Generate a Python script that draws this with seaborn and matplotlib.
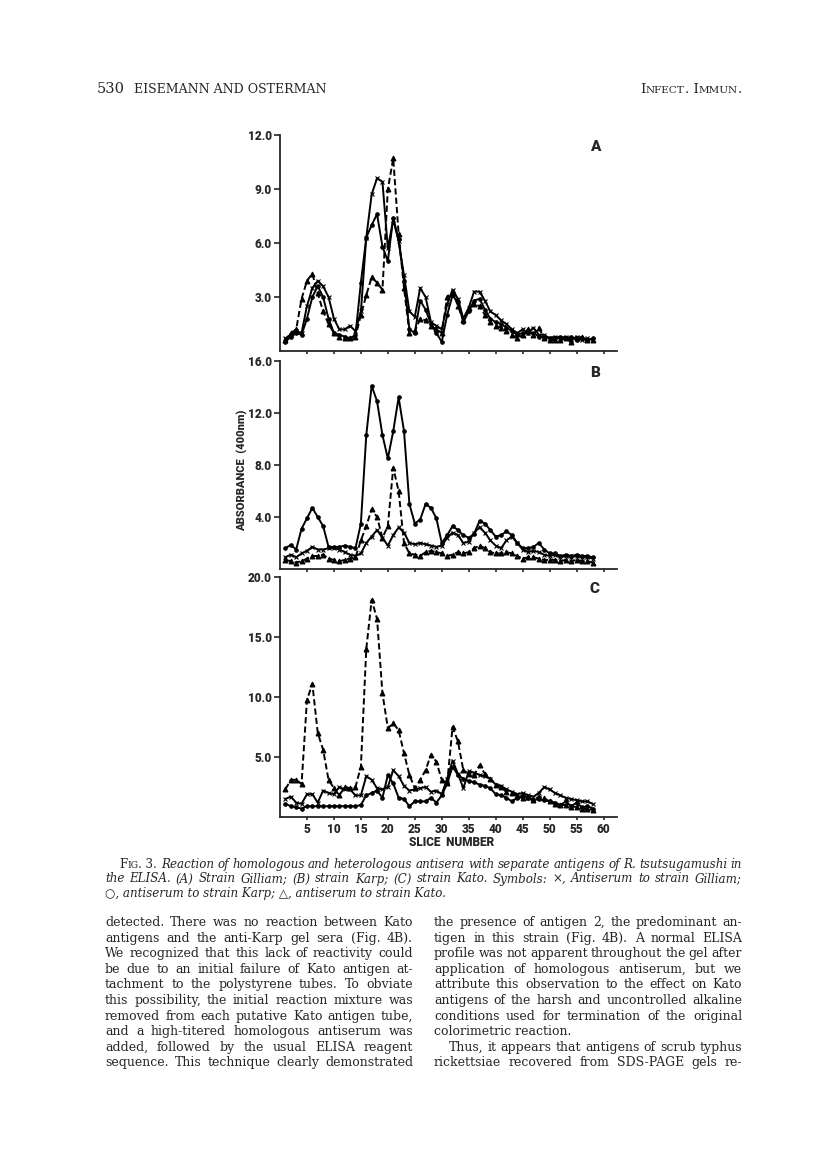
import matplotlib
matplotlib.use("Agg")
import matplotlib.pyplot as plt
import seaborn as sns

# slice numbers along the gel
slices = list(range(1, 59))

# (A) strain Gilliam antigens
a_gilliam = [0.7, 0.9, 1.1, 1.0, 2.5, 3.5, 3.9, 3.6, 3.0, 1.8, 1.2, 1.2, 1.4, 1.1, 2.2,
             6.3, 8.7, 9.6, 9.4, 5.7, 7.3, 6.1, 4.2, 2.2, 1.9, 3.5, 3.0, 1.6, 1.4, 1.2,
             2.6, 3.4, 2.9, 1.8, 2.4, 3.3, 3.3, 2.8, 2.2, 2.0, 1.7, 1.5, 1.2, 1.0, 1.2,
             1.0, 1.3, 0.9, 0.9, 0.7, 0.8, 0.7, 0.8, 0.6, 0.8, 0.6, 0.7, 0.6]
a_karp = [0.5, 0.8, 1.0, 0.9, 1.8, 3.0, 3.6, 3.0, 1.8, 1.0, 0.9, 0.8, 0.7, 0.9, 3.8,
          6.3, 7.0, 7.6, 5.8, 5.0, 7.4, 6.2, 3.9, 1.2, 1.0, 2.8, 2.3, 1.5, 1.0, 0.5,
          2.0, 3.1, 2.7, 1.6, 2.2, 2.8, 2.9, 2.3, 1.8, 1.6, 1.5, 1.3, 1.1, 0.9, 1.0,
          1.0, 1.0, 0.8, 0.8, 0.7, 0.7, 0.8, 0.7, 0.8, 0.6, 0.7, 0.6, 0.7]
a_kato = [0.6, 1.0, 1.2, 2.9, 3.9, 4.3, 3.2, 2.2, 1.5, 1.0, 0.8, 0.7, 0.7, 0.8, 2.0,
          3.1, 4.1, 3.8, 3.4, 9.0, 10.7, 6.5, 3.5, 1.0, 1.1, 1.8, 1.7, 1.4, 1.2, 1.0,
          3.0, 3.3, 2.5, 1.7, 2.4, 2.6, 2.5, 2.0, 1.6, 1.4, 1.3, 1.1, 0.9, 0.7, 0.9,
          1.2, 0.9, 1.3, 0.7, 0.6, 0.6, 0.6, 0.7, 0.5, 0.7, 0.8, 0.6, 0.6]

# (B) strain Karp antigens
b_karp = [1.6, 1.85, 1.5, 3.1, 3.9, 4.7, 4.0, 3.3, 1.7, 1.7, 1.7, 1.8, 1.7, 1.6, 3.5,
          10.3, 14.1, 12.9, 10.3, 8.5, 10.6, 13.2, 10.6, 5.0, 3.5, 3.8, 5.0, 4.7, 3.9, 2.0,
          2.6, 3.3, 3.0, 2.6, 2.4, 2.7, 3.7, 3.5, 3.0, 2.5, 2.6, 2.9, 2.6, 2.0, 1.6,
          1.6, 1.7, 2.0, 1.5, 1.2, 1.2, 1.0, 1.1, 1.0, 1.1, 1.0, 1.0, 0.9]
b_gilliam = [0.9, 1.1, 0.9, 1.2, 1.4, 1.7, 1.5, 1.5, 1.6, 1.6, 1.5, 1.3, 1.1, 1.0, 1.2,
             2.0, 2.5, 3.0, 2.4, 1.8, 2.6, 3.2, 2.8, 2.0, 1.9, 2.0, 1.9, 1.8, 1.7, 1.8,
             2.4, 2.8, 2.6, 2.0, 2.1, 2.8, 3.2, 2.8, 2.2, 1.8, 1.6, 2.2, 2.5, 2.0, 1.5,
             1.3, 1.4, 1.3, 1.1, 1.0, 1.1, 0.9, 1.0, 0.9, 1.0, 0.9, 0.9, 0.8]
b_kato = [0.7, 0.6, 0.5, 0.6, 0.8, 1.0, 1.0, 1.1, 0.8, 0.7, 0.6, 0.7, 0.8, 0.9, 2.2,
          3.3, 4.6, 4.0, 2.4, 3.3, 7.8, 6.0, 2.0, 1.2, 1.1, 1.0, 1.3, 1.4, 1.3, 1.2,
          1.0, 1.1, 1.3, 1.2, 1.3, 1.6, 1.8, 1.6, 1.3, 1.2, 1.2, 1.3, 1.2, 1.0, 0.8,
          0.9, 0.9, 0.8, 0.7, 0.7, 0.7, 0.6, 0.7, 0.6, 0.7, 0.6, 0.6, 0.5]

# (C) strain Kato antigens
c_gilliam = [1.5, 1.7, 1.2, 1.1, 1.9, 1.9, 1.2, 2.2, 2.0, 1.9, 2.5, 2.3, 2.3, 1.8, 1.8,
             3.4, 3.1, 2.4, 2.3, 2.5, 3.9, 3.4, 2.6, 2.2, 2.3, 2.4, 2.5, 2.1, 2.2, 1.9,
             3.2, 4.7, 3.6, 2.4, 3.8, 3.7, 3.5, 3.4, 3.2, 2.7, 2.6, 2.3, 2.1, 1.9, 2.0,
             1.8, 1.7, 2.0, 2.5, 2.3, 2.0, 1.8, 1.6, 1.5, 1.4, 1.3, 1.3, 1.1]
c_karp = [1.1, 0.9, 0.8, 0.7, 0.9, 0.9, 0.9, 0.9, 0.9, 0.9, 0.9, 0.9, 0.9, 0.9, 1.0,
          1.8, 2.0, 2.2, 1.6, 3.5, 2.8, 1.6, 1.5, 0.9, 1.3, 1.3, 1.3, 1.6, 1.2, 1.8,
          2.8, 4.2, 3.5, 3.2, 3.0, 2.9, 2.7, 2.6, 2.4, 1.9, 1.8, 1.6, 1.3, 1.6, 1.8,
          1.6, 1.4, 1.5, 1.4, 1.3, 1.2, 1.0, 1.3, 0.9, 1.2, 0.8, 0.9, 0.7]
c_kato = [2.3, 3.1, 3.1, 2.75, 9.75, 11.1, 7.0, 5.6, 3.1, 2.4, 1.8, 2.5, 2.4, 2.5, 4.2,
          14.0, 18.1, 16.5, 10.3, 7.4, 7.8, 7.25, 5.3, 3.5, 2.4, 3.1, 3.9, 5.2, 4.6, 3.1,
          2.8, 7.5, 6.3, 3.9, 3.6, 3.5, 4.3, 3.6, 3.2, 2.7, 2.5, 2.1, 2.0, 1.75, 1.55,
          1.7, 1.4, 1.7, 1.55, 1.3, 1.1, 1.0, 1.0, 0.85, 0.85, 0.7, 0.65, 0.6]

y_ticks_a = [3, 6, 9, 12]
y_ticks_b = [4, 8, 12, 16]
y_ticks_c = [5, 10, 15, 20]
x_ticks = list(range(5, 65, 5))

W, H = 816, 1175
sns.set_style("ticks")
plt.rcParams["font.family"] = ["Roboto", "DejaVu Sans"]
fig = plt.figure(figsize=(W / 100, H / 100), dpi=100)
fig.patch.set_facecolor("white")
renderer = fig.canvas.get_renderer()

lw = 1.4
serif = ["DejaVu Serif"]


def fx(x, y):
    return x / W, 1 - y / H


def panel(rect, series, yticks, letter, show_x):
    # rect given in pixels: left, top, right, bottom
    l, t, r, b = rect
    ax = fig.add_axes([l / W, 1 - b / H, (r - l) / W, (b - t) / H])
    for vals, mk, ms, dashed in series:
        sns.lineplot(x=slices, y=vals, ax=ax, color="black", lw=lw,
                     marker=mk, markersize=ms, markeredgewidth=0.8,
                     markeredgecolor="black", markerfacecolor="black",
                     linestyle=(0, (3.2, 1.6)) if dashed else "-")
    ax.set_xlim(0, 62.5)
    ax.set_ylim(0, yticks[-1])
    ax.set_yticks(yticks)
    ax.set_yticklabels(["%.1f" % v for v in yticks], fontsize=8.5, fontweight="heavy")
    ax.set_xticks(x_ticks)
    if show_x:
        ax.set_xticklabels([str(v) for v in x_ticks], fontsize=8.5, fontweight="heavy")
    else:
        ax.set_xticklabels([])
    ax.tick_params(axis="y", length=4.5, width=1.2, pad=1.5, direction="out")
    ax.tick_params(axis="x", length=2.5, width=1.2, pad=1.5, direction="out")
    sns.despine(ax=ax)
    for sp in ("left", "bottom"):
        ax.spines[sp].set_linewidth(1.3)
    ax.set_xlabel("")
    ax.set_ylabel("")
    ax.patch.set_alpha(0)
    fig.text(*fx(595, t + 12), letter, fontsize=11, fontweight="heavy",
             ha="center", va="center")
    return ax


panel((280, 135, 617, 351),
      [(a_gilliam, "x", 3.5, False), (a_karp, "o", 2.5, False), (a_kato, "^", 3.5, True)],
      y_ticks_a, "A", False)
panel((280, 361, 617, 569),
      [(b_karp, "o", 2.5, False), (b_gilliam, "x", 3.5, False), (b_kato, "^", 3.5, True)],
      y_ticks_b, "B", False)
panel((280, 577, 617, 817),
      [(c_gilliam, "x", 3.5, False), (c_karp, "o", 2.5, False), (c_kato, "^", 3.5, True)],
      y_ticks_c, "C", True)

fig.text(*fx(242, 470), "ABSORBANCE  (400nm)", rotation=90, fontsize=8,
         fontweight="heavy", ha="center", va="center")
fig.text(*fx(452, 842), "SLICE  NUMBER", fontsize=8.5, fontweight="heavy",
         ha="center", va="center")


def measure(s, **kw):
    t = fig.text(0, 0, s, **kw)
    w = t.get_window_extent(renderer).width
    t.remove()
    return w


def smallcaps(s, x, y, size, ha="left", **kw):
    pieces = []
    for ch in s:
        sz = size * 0.78 if ch.islower() else size
        if pieces and pieces[-1][1] == sz:
            pieces[-1][0] += ch.upper()
        else:
            pieces.append([ch.upper(), sz])
    widths = [measure(p, fontsize=sz, **kw) for p, sz in pieces]
    if ha == "right":
        x -= sum(widths)
    for (p, sz), w in zip(pieces, widths):
        fig.text(*fx(x, y), p, fontsize=sz, va="baseline", **kw)
        x += w
    return x


def fit_size(lines, width, size, min_gap=3.0, **kw):
    # largest size at which every line fits the measure
    for s in lines:
        words = s.split()
        while True:
            tot = sum(measure(w, fontsize=size, **kw) for w in words)
            if width - tot >= min_gap * (len(words) - 1):
                break
            size -= 0.1
    return size


def justify(s, x0, x1, y, size, **kw):
    words = s.split()
    widths = [measure(w, fontsize=size, **kw) for w in words]
    gap = (x1 - x0 - sum(widths)) / (len(words) - 1)
    x = x0
    for w, wd in zip(words, widths):
        fig.text(*fx(x, y), w, fontsize=size, va="baseline", **kw)
        x += wd + gap


def plain(s, x, y, size, **kw):
    fig.text(*fx(x, y), s, fontsize=size, va="baseline", **kw)


L, R = 105, 742
COLW = 308
RC = R - COLW

# running head
plain("530", L - 8, 93, 10.5, family=serif)
plain("EISEMANN AND OSTERMAN", 134, 93, 9.0, family=serif)
smallcaps("Infect. Immun.", R, 93, 9.6, ha="right", family=serif)

# figure caption
cap1 = "Reaction of homologous and heterologous antisera with separate antigens of " \
       "R. tsutsugamushi in"
cap2 = "the ELISA. (A) Strain Gilliam; (B) strain Karp; (C) strain Kato. Symbols: " \
       "\u00d7, Antiserum to strain Gilliam;"
cap3 = "\u25cb, antiserum to strain Karp; \u25b3, antiserum to strain Kato."
x = smallcaps("Fig. 3. ", L + 14, 868, 8.6, family=serif)
csz = fit_size([cap2], R - L, 9.0, min_gap=3.0, family=serif, style="italic")
csz = min(csz, fit_size([cap1], R - x, 9.0, min_gap=3.0, family=serif, style="italic"))
justify(cap1, x, R, 868, csz, family=serif, style="italic")
justify(cap2, L, R, 882.5, csz, family=serif, style="italic")
plain(cap3, L, 897, csz, family=serif, style="italic")

left_col = [
    "detected. There was no reaction between Kato",
    "antigens and the anti-Karp gel sera (Fig. 4B).",
    "We recognized that this lack of reactivity could",
    "be due to an initial failure of Kato antigen at-",
    "tachment to the polystyrene tubes. To obviate",
    "this possibility, the initial reaction mixture was",
    "removed from each putative Kato antigen tube,",
    "and a high-titered homologous antiserum was",
    "added, followed by the usual ELISA reagent",
    "sequence. This technique clearly demonstrated",
]
right_col = [
    "the presence of antigen 2, the predominant an-",
    "tigen in this strain (Fig. 4B). A normal ELISA",
    "profile was not apparent throughout the gel after",
    "application of homologous antiserum, but we",
    "attribute this observation to the effect on Kato",
    "antigens of the harsh and uncontrolled alkaline",
    "conditions used for termination of the original",
    "colorimetric reaction.",
    "Thus, it appears that antigens of scrub typhus",
    "rickettsiae recovered from SDS-PAGE gels re-",
]
line_y = [926 + 15.6 * i for i in range(10)]
bsz = fit_size(left_col + right_col[:7] + right_col[9:], COLW, 9.0, min_gap=3.0,
               family=serif)
for s, y in zip(left_col, line_y):
    justify(s, L, L + COLW, y, bsz, family=serif)
for i, (s, y) in enumerate(zip(right_col, line_y)):
    if i == 7:
        plain(s, RC, y, bsz, family=serif)
    elif i == 8:
        justify(s, RC + 15, R, y, bsz, family=serif)
    else:
        justify(s, RC, R, y, bsz, family=serif)

fig.savefig("out.png", dpi=100, facecolor="white")
